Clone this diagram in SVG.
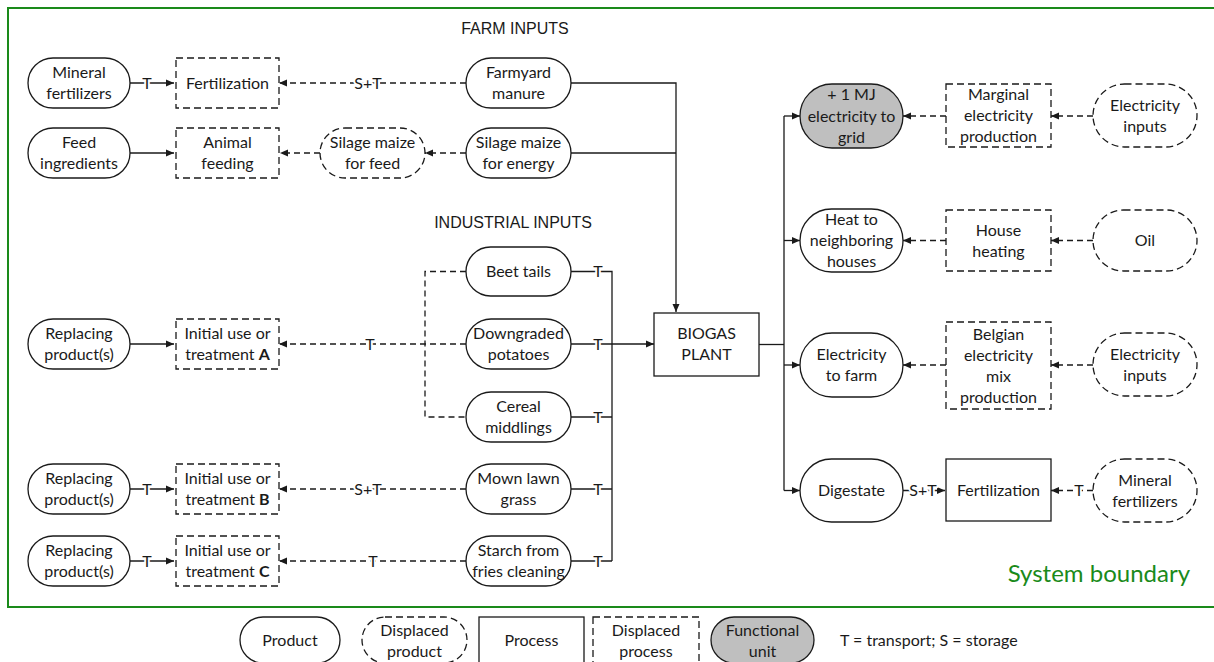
<svg xmlns="http://www.w3.org/2000/svg" width="1214" height="662" viewBox="0 0 1214 662">
<defs>
<marker id="ah" viewBox="0 0 8 8" refX="8" refY="4" markerWidth="8" markerHeight="8" markerUnits="userSpaceOnUse" orient="auto"><path d="M0,0.5 L8,4 L0,7.5 z" fill="#1a1a1a"/></marker>
</defs>
<style>
.n{fill:#fff;stroke:#1a1a1a;stroke-width:1.3}
.d{stroke-dasharray:7 4}
.g{fill:#bfbfbf}
.t{font-family:Lato,"Open Sans",sans-serif;font-size:16px;fill:#1a1a1a;text-anchor:middle}
.h{font-family:"Liberation Sans",Arial,sans-serif;font-size:16px;fill:#1a1a1a;text-anchor:middle}
.c{fill:none;stroke:#1a1a1a;stroke-width:1.3}
.cd{stroke-dasharray:6 4}
.lb{font-family:Lato,"Open Sans",sans-serif;font-size:16px;fill:#1a1a1a;text-anchor:middle;stroke:#fff;stroke-width:4;paint-order:stroke;stroke-linejoin:round}
</style>
<rect width="1214" height="662" fill="#fff"/>
<rect x="8" y="8" width="1212" height="599" fill="none" stroke="#1a8a1a" stroke-width="2"/>
<text x="1190" y="582" font-family="Lato,'Open Sans',sans-serif" font-size="24" fill="#1a8a1a" text-anchor="end">System boundary</text>
<text class="h" x="515" y="34">FARM INPUTS</text>
<text class="h" x="513" y="228">INDUSTRIAL INPUTS</text>

<g id="connectors">
<path class="c" d="M130,83 H174" marker-end="url(#ah)"/>
<path class="c" d="M130,153 H174" marker-end="url(#ah)"/>
<path class="c" d="M130,344 H174" marker-end="url(#ah)"/>
<path class="c" d="M130,489 H174" marker-end="url(#ah)"/>
<path class="c" d="M130,561 H174" marker-end="url(#ah)"/>
<path class="c" d="M571,83 H676 V312" marker-end="url(#ah)"/>
<path class="c" d="M571,153 H676"/>
<path class="c" d="M571,271.5 H612 V561"/>
<path class="c" d="M571,417 H612"/>
<path class="c" d="M571,489 H612"/>
<path class="c" d="M571,561 H612"/>
<path class="c" d="M571,344 H654" marker-end="url(#ah)"/>
<path class="c" d="M759,344.5 H784"/>
<path class="c" d="M784,116 V490.5"/>
<path class="c" d="M784,116 H800" marker-end="url(#ah)"/>
<path class="c" d="M784,240.5 H800" marker-end="url(#ah)"/>
<path class="c" d="M784,365 H800" marker-end="url(#ah)"/>
<path class="c" d="M784,490.5 H800" marker-end="url(#ah)"/>
<path class="c" d="M903,490.5 H945" marker-end="url(#ah)"/>
<path class="c cd" d="M466,83 H279" marker-end="url(#ah)"/>
<path class="c cd" d="M320,153 H280" marker-end="url(#ah)"/>
<path class="c cd" d="M466,153 H425" marker-end="url(#ah)"/>
<path class="c cd" d="M466,271.5 H425 V417 H466"/>
<path class="c cd" d="M466,344 H279" marker-end="url(#ah)"/>
<path class="c cd" d="M466,489 H279" marker-end="url(#ah)"/>
<path class="c cd" d="M466,561 H279" marker-end="url(#ah)"/>
<path class="c cd" d="M946,116 H903" marker-end="url(#ah)"/>
<path class="c cd" d="M1093,116 H1051" marker-end="url(#ah)"/>
<path class="c cd" d="M946,240.5 H903" marker-end="url(#ah)"/>
<path class="c cd" d="M1093,240.5 H1051" marker-end="url(#ah)"/>
<path class="c cd" d="M946,365 H903" marker-end="url(#ah)"/>
<path class="c cd" d="M1093,365 H1051" marker-end="url(#ah)"/>
<path class="c cd" d="M1093,490.5 H1051" marker-end="url(#ah)"/>
<text class="lb" x="147" y="89">T</text>
<text class="lb" x="147" y="495">T</text>
<text class="lb" x="147" y="567">T</text>
<text class="lb" x="368" y="89">S+T</text>
<text class="lb" x="370" y="350">T</text>
<text class="lb" x="368" y="495">S+T</text>
<text class="lb" x="373" y="567">T</text>
<text class="lb" x="598" y="277">T</text>
<text class="lb" x="598" y="350">T</text>
<text class="lb" x="598" y="423">T</text>
<text class="lb" x="598" y="495">T</text>
<text class="lb" x="598" y="567">T</text>
<text class="lb" x="923" y="496">S+T</text>
<text class="lb" x="1079" y="496">T</text>
</g>

<g id="n-mineral"><rect class="n" x="28" y="58" width="102" height="50" rx="25"/><text class="t" x="79" y="78">Mineral</text><text class="t" x="79" y="99">fertilizers</text></g>
<g id="n-fertilization1"><rect class="n d" x="176" y="58" width="103" height="50"/><text class="t" x="227.5" y="88.5">Fertilization</text></g>
<g id="n-farmyard"><rect class="n" x="466" y="58" width="105" height="50" rx="25"/><text class="t" x="518.5" y="78">Farmyard</text><text class="t" x="518.5" y="99">manure</text></g>
<g id="n-feed"><rect class="n" x="28" y="128" width="102" height="50" rx="25"/><text class="t" x="79" y="148">Feed</text><text class="t" x="79" y="169">ingredients</text></g>
<g id="n-animal"><rect class="n d" x="176" y="128" width="103" height="50"/><text class="t" x="227.5" y="148">Animal</text><text class="t" x="227.5" y="169">feeding</text></g>
<g id="n-silage-feed"><rect class="n d" x="320" y="128" width="105" height="50" rx="25"/><text class="t" x="372.5" y="148">Silage maize</text><text class="t" x="372.5" y="169">for feed</text></g>
<g id="n-silage-energy"><rect class="n" x="466" y="128" width="105" height="50" rx="25"/><text class="t" x="518.5" y="148">Silage maize</text><text class="t" x="518.5" y="169">for energy</text></g>

<g id="n-beet"><rect class="n" x="466" y="247" width="105" height="49" rx="24.5"/><text class="t" x="518.5" y="277">Beet tails</text></g>
<g id="n-potatoes"><rect class="n" x="466" y="319" width="105" height="50" rx="25"/><text class="t" x="518.5" y="339">Downgraded</text><text class="t" x="518.5" y="360">potatoes</text></g>
<g id="n-cereal"><rect class="n" x="466" y="392" width="105" height="50" rx="25"/><text class="t" x="518.5" y="412">Cereal</text><text class="t" x="518.5" y="433">middlings</text></g>
<g id="n-mown"><rect class="n" x="466" y="464" width="105" height="50" rx="25"/><text class="t" x="518.5" y="484">Mown lawn</text><text class="t" x="518.5" y="505">grass</text></g>
<g id="n-starch"><rect class="n" x="466" y="536" width="105" height="50" rx="25"/><text class="t" x="518.5" y="556">Starch from</text><text class="t" x="518.5" y="577">fries cleaning</text></g>

<g id="n-replacing-a"><rect class="n" x="28" y="319" width="102" height="50" rx="25"/><text class="t" x="79" y="339">Replacing</text><text class="t" x="79" y="360">product(s)</text></g>
<g id="n-initial-a"><rect class="n d" x="176" y="319" width="103" height="50"/><text class="t" x="227.5" y="339">Initial use or</text><text class="t" x="227.5" y="360">treatment <tspan font-weight="bold">A</tspan></text></g>
<g id="n-replacing-b"><rect class="n" x="28" y="464" width="102" height="50" rx="25"/><text class="t" x="79" y="484">Replacing</text><text class="t" x="79" y="505">product(s)</text></g>
<g id="n-initial-b"><rect class="n d" x="176" y="464" width="103" height="50"/><text class="t" x="227.5" y="484">Initial use or</text><text class="t" x="227.5" y="505">treatment <tspan font-weight="bold">B</tspan></text></g>
<g id="n-replacing-c"><rect class="n" x="28" y="536" width="102" height="50" rx="25"/><text class="t" x="79" y="556">Replacing</text><text class="t" x="79" y="577">product(s)</text></g>
<g id="n-initial-c"><rect class="n d" x="176" y="536" width="103" height="50"/><text class="t" x="227.5" y="556">Initial use or</text><text class="t" x="227.5" y="577">treatment <tspan font-weight="bold">C</tspan></text></g>

<g id="n-biogas"><rect class="n" x="654" y="313" width="105" height="63"/><text class="t" x="706.5" y="339">BIOGAS</text><text class="t" x="706.5" y="360">PLANT</text></g>

<g id="n-grid"><rect class="n g" x="800" y="84" width="103" height="64" rx="32"/><text class="t" x="851.5" y="100">+ 1 MJ</text><text class="t" x="851.5" y="121.5">electricity to</text><text class="t" x="851.5" y="143">grid</text></g>
<g id="n-heat"><rect class="n" x="800" y="209" width="103" height="63" rx="31.5"/><text class="t" x="851.5" y="225">Heat to</text><text class="t" x="851.5" y="246">neighboring</text><text class="t" x="851.5" y="267">houses</text></g>
<g id="n-elec-farm"><rect class="n" x="800" y="333" width="103" height="64" rx="32"/><text class="t" x="851.5" y="360">Electricity</text><text class="t" x="851.5" y="381">to farm</text></g>
<g id="n-digestate"><rect class="n" x="800" y="459" width="103" height="63" rx="31.5"/><text class="t" x="851.5" y="496">Digestate</text></g>

<g id="n-marginal"><rect class="n d" x="946" y="84" width="105" height="63"/><text class="t" x="998.5" y="100">Marginal</text><text class="t" x="998.5" y="121">electricity</text><text class="t" x="998.5" y="142">production</text></g>
<g id="n-house"><rect class="n d" x="946" y="210" width="105" height="61"/><text class="t" x="998.5" y="235.5">House</text><text class="t" x="998.5" y="256.5">heating</text></g>
<g id="n-belgian"><rect class="n d" x="946" y="322" width="105" height="87"/><text class="t" x="998.5" y="339.5">Belgian</text><text class="t" x="998.5" y="360.5">electricity</text><text class="t" x="998.5" y="381.5">mix</text><text class="t" x="998.5" y="402.5">production</text></g>
<g id="n-fertilization2"><rect class="n" x="946" y="459" width="105" height="62"/><text class="t" x="998.5" y="496">Fertilization</text></g>

<g id="n-elec-inputs1"><rect class="n d" x="1093" y="84" width="104" height="63" rx="31.5"/><text class="t" x="1145" y="110.5">Electricity</text><text class="t" x="1145" y="131.5">inputs</text></g>
<g id="n-oil"><rect class="n d" x="1093" y="210" width="104" height="61" rx="30.5"/><text class="t" x="1145" y="246">Oil</text></g>
<g id="n-elec-inputs2"><rect class="n d" x="1093" y="333" width="104" height="63" rx="31.5"/><text class="t" x="1145" y="359.5">Electricity</text><text class="t" x="1145" y="380.5">inputs</text></g>
<g id="n-mineral2"><rect class="n d" x="1093" y="459" width="104" height="63" rx="31.5"/><text class="t" x="1145" y="485.5">Mineral</text><text class="t" x="1145" y="506.5">fertilizers</text></g>

<g id="legend">
<g id="lg-product"><rect class="n" x="240" y="617" width="100" height="46" rx="23"/><text class="t" x="290" y="646">Product</text></g>
<g id="lg-displaced-product"><rect class="n d" x="362" y="617" width="105" height="46" rx="23"/><text class="t" x="414.5" y="636">Displaced</text><text class="t" x="414.5" y="657">product</text></g>
<g id="lg-process"><rect class="n" x="479" y="617" width="105" height="46"/><text class="t" x="531.5" y="646">Process</text></g>
<g id="lg-displaced-process"><rect class="n d" x="593" y="617" width="106" height="46"/><text class="t" x="646" y="636">Displaced</text><text class="t" x="646" y="657">process</text></g>
<g id="lg-functional"><rect class="n g" x="711" y="617" width="103" height="46" rx="23"/><text class="t" x="762.5" y="636">Functional</text><text class="t" x="762.5" y="657">unit</text></g>
<text class="t" x="840" y="646" text-anchor="start" style="text-anchor:start">T = transport; S = storage</text>
</g>
</svg>
